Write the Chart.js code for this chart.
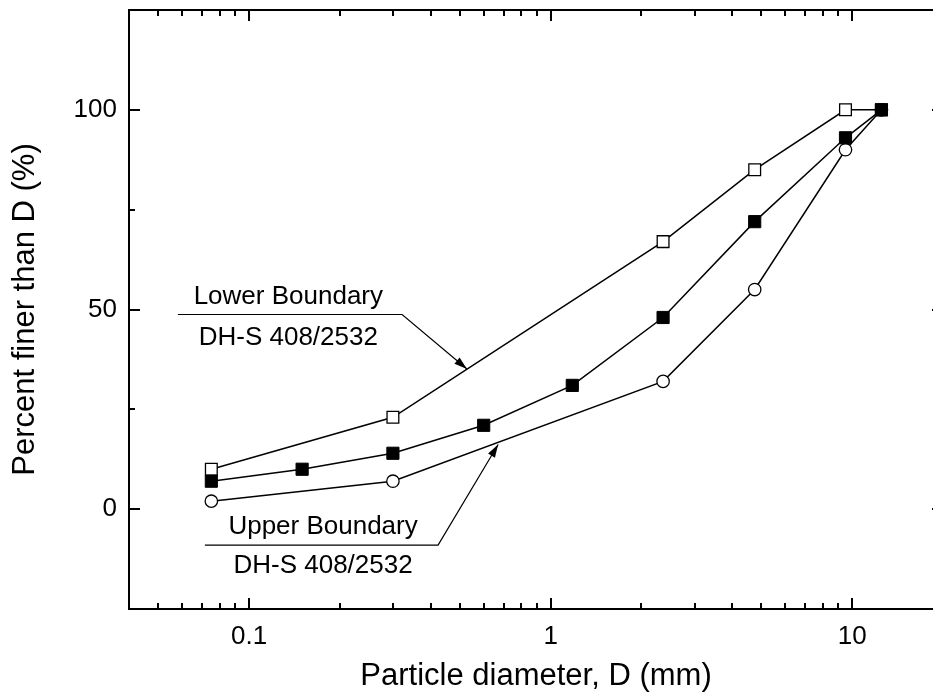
<!DOCTYPE html>
<html>
<head>
<meta charset="utf-8">
<script src="https://cdn.jsdelivr.net/npm/chart.js@4.4.1/dist/chart.umd.min.js"></script>
<style>
  html, body { margin: 0; padding: 0; background: #fff; overflow: hidden; }
  #wrap { position: relative; width: 960px; height: 698px; }
</style>
</head>
<body>
<div id="wrap"><canvas id="chart"></canvas></div>
<script>
// sieve sizes (mm) and percent passing
const sampleSizes = [0.075, 0.15, 0.3, 0.6, 1.18, 2.36, 4.75, 9.5, 12.5];
const samplePassing = [7, 10, 14, 21, 31, 48, 72, 93, 100];

const boundSizes = [0.075, 0.3, 2.36, 4.75, 9.5, 12.5];
const lowerPassing = [10, 23, 67, 85, 100, 100];
const upperPassing = [2, 7, 32, 55, 90, 100];

const xTickLabels = [0.1, 1, 10];
const yTickLabels = [0, 50, 100];
const yMinorStep = 25;

// callout labels, anchored in data units
const callouts = [
  { lines: ["Lower Boundary", "DH-S 408/2532"], textX: 0.135, textY: [53.2, 43],
    lineFrom: 0.0581, lineTo: 0.3218, lineY: 48.75, tip: [0.528, 35.1] },
  { lines: ["Upper Boundary", "DH-S 408/2532"], textX: 0.176, textY: [-4.5, -14.3],
    lineFrom: 0.0714, lineTo: 0.4235, lineY: -9, tip: [0.67, 16.2] }
];

const FONT = "'Liberation Sans', Arial, sans-serif";

const toXY = (xs, ys) => xs.map((x, i) => ({ x: x, y: ys[i] }));

const framePlugin = {
  id: "frame",
  afterDraw(chart) {
    const { ctx, chartArea: a, scales } = chart;
    const xs = scales.x, ys = scales.y;
    ctx.save();
    ctx.strokeStyle = "#000";
    ctx.lineWidth = 2;
    ctx.strokeRect(a.left, a.top, a.right - a.left, a.bottom - a.top);

    // x ticks, bottom and top, pointing inward
    ctx.beginPath();
    for (let k = -2; k <= 1; k++) {
      for (let m = 1; m <= 9; m++) {
        const v = m * Math.pow(10, k);
        if (v < xs.min || v > xs.max) continue;
        const px = Math.round(xs.getPixelForValue(v));
        const len = m === 1 ? 11 : 6;
        ctx.moveTo(px, a.bottom); ctx.lineTo(px, a.bottom - len);
        ctx.moveTo(px, a.top); ctx.lineTo(px, a.top + len);
      }
    }
    // y ticks, left and right
    for (let v = ys.min; v <= ys.max; v += yMinorStep) {
      const py = Math.round(ys.getPixelForValue(v));
      const len = yTickLabels.includes(v) ? 11 : 6;
      ctx.moveTo(a.left, py); ctx.lineTo(a.left + len, py);
      ctx.moveTo(a.right, py); ctx.lineTo(a.right - len, py);
    }
    ctx.stroke();

    // callouts
    ctx.fillStyle = "#000";
    ctx.font = "26px " + FONT;
    ctx.textAlign = "center";
    ctx.textBaseline = "middle";
    callouts.forEach(c => {
      const tx = xs.getPixelForValue(c.textX);
      c.lines.forEach((t, i) => ctx.fillText(t, tx, ys.getPixelForValue(c.textY[i])));
      const x0 = xs.getPixelForValue(c.lineFrom);
      const x1 = xs.getPixelForValue(c.lineTo);
      const ly = ys.getPixelForValue(c.lineY);
      const tipX = xs.getPixelForValue(c.tip[0]);
      const tipY = ys.getPixelForValue(c.tip[1]);
      ctx.lineWidth = 1.2;
      ctx.beginPath();
      ctx.moveTo(x0, ly); ctx.lineTo(x1, ly); ctx.lineTo(tipX, tipY);
      ctx.stroke();
      // arrow head
      const ang = Math.atan2(tipY - ly, tipX - x1);
      const hl = 13, hw = 4;
      ctx.beginPath();
      ctx.moveTo(tipX, tipY);
      ctx.lineTo(tipX - hl * Math.cos(ang) + hw * Math.sin(ang), tipY - hl * Math.sin(ang) - hw * Math.cos(ang));
      ctx.lineTo(tipX - hl * Math.cos(ang) - hw * Math.sin(ang), tipY - hl * Math.sin(ang) + hw * Math.cos(ang));
      ctx.closePath();
      ctx.fill();
    });
    ctx.restore();
  }
};

new Chart(document.getElementById("chart"), {
  type: "line",
  data: {
    datasets: [
      {
        label: "Sample",
        data: toXY(sampleSizes, samplePassing),
        borderColor: "#000",
        borderWidth: 1.5,
        pointStyle: "rect",
        pointRadius: 8.6,
        pointBackgroundColor: "#000",
        pointBorderColor: "#000",
        pointBorderWidth: 1,
        order: 0
      },
      {
        label: "Upper Boundary",
        data: toXY(boundSizes, upperPassing),
        borderColor: "#000",
        borderWidth: 1.5,
        pointStyle: "circle",
        pointRadius: 6.2,
        pointBackgroundColor: "#fff",
        pointBorderColor: "#000",
        pointBorderWidth: 1.3,
        order: 1
      },
      {
        label: "Lower Boundary",
        data: toXY(boundSizes, lowerPassing),
        borderColor: "#000",
        borderWidth: 1.5,
        pointStyle: "rect",
        pointRadius: 8.3,
        pointBackgroundColor: "#fff",
        pointBorderColor: "#000",
        pointBorderWidth: 1.3,
        order: 2
      }
    ]
  },
  options: {
    responsive: true,
    maintainAspectRatio: false,
    animation: false,
    layout: { padding: { top: 10, right: 17, left: 0, bottom: 0 } },
    plugins: {
      legend: { display: false },
      tooltip: { enabled: false }
    },
    scales: {
      x: {
        type: "logarithmic",
        min: 0.04,
        max: 20,
        grid: { display: false, drawTicks: false },
        border: { display: false },
        afterBuildTicks: s => { s.ticks = xTickLabels.map(v => ({ value: v })); },
        afterFit: s => { s.height = 89; s.paddingLeft = 0; s.paddingRight = 0; },
        ticks: {
          autoSkip: false,
          maxRotation: 0,
          padding: 12,
          color: "#000",
          font: { family: FONT, size: 26 },
          callback: v => String(v)
        },
        title: {
          display: true,
          text: "Particle diameter, D (mm)",
          color: "#000",
          font: { family: FONT, size: 31 },
          padding: { top: 0, bottom: 3 }
        }
      },
      y: {
        type: "linear",
        min: -25,
        max: 125,
        grid: { display: false, drawTicks: false },
        border: { display: false },
        afterBuildTicks: s => { s.ticks = yTickLabels.map(v => ({ value: v })); },
        afterFit: s => { s.width = 129; s.paddingTop = 0; s.paddingBottom = 0; },
        ticks: {
          padding: 12,
          color: "#000",
          font: { family: FONT, size: 26 }
        },
        title: {
          display: true,
          text: "Percent finer than D (%)",
          color: "#000",
          font: { family: FONT, size: 31 },
          padding: { top: 7, bottom: 0 }
        }
      }
    }
  },
  plugins: [framePlugin]
});
</script>
</body>
</html>
